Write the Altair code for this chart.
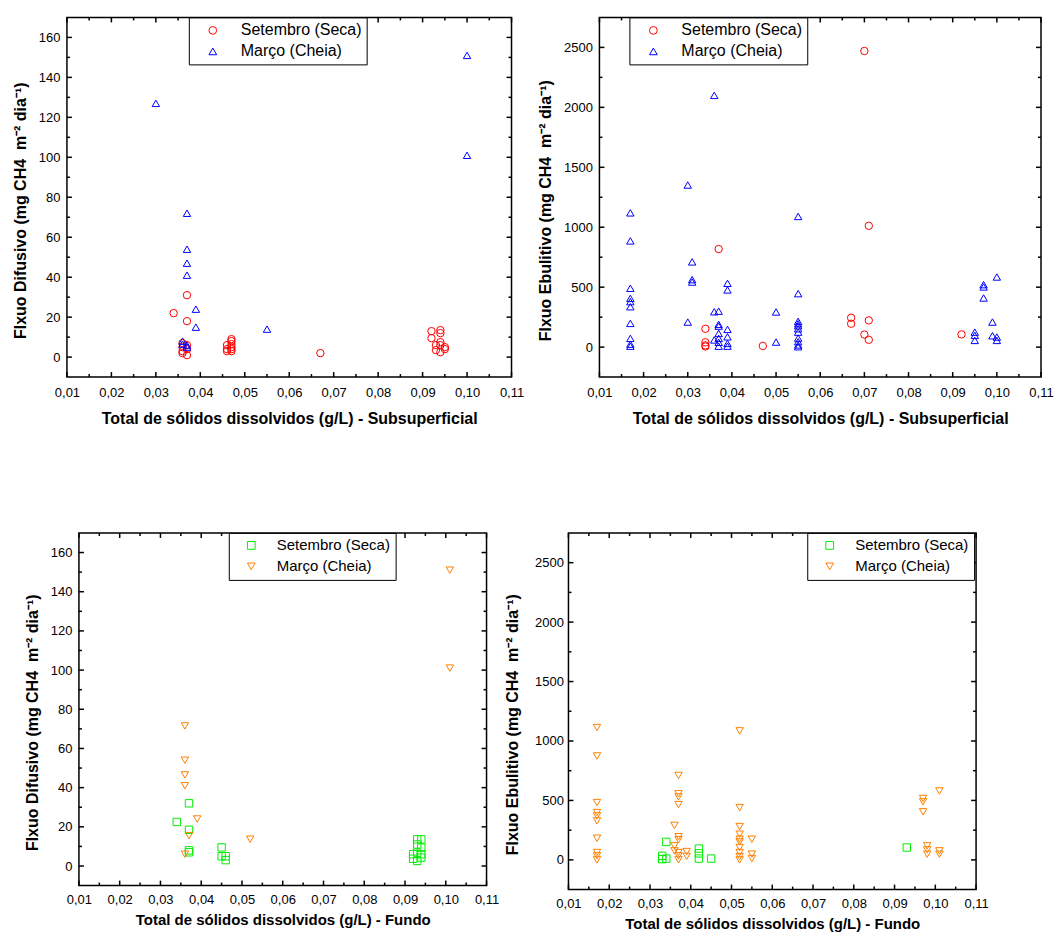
import altair as alt
import pandas as pd

SET = "Setembro (Seca)"
MAR = "Março (Cheia)"

# ---------------- Panel A: Difusivo x TDS subsuperficial ----------------
a_set_x = [0.034, 0.037, 0.037, 0.036, 0.037, 0.036, 0.037, 0.036, 0.036, 0.037,
           0.046, 0.046, 0.046, 0.047, 0.047, 0.047, 0.047, 0.047, 0.047,
           0.067,
           0.092, 0.092, 0.093, 0.093, 0.094, 0.094, 0.094, 0.094, 0.094, 0.095, 0.095]
a_set_y = [22, 31, 18, 7, 6, 5, 4, 3, 2, 1,
           6, 4, 3, 9, 8, 6.5, 5, 4, 3,
           2,
           13, 9.5, 6, 3.5, 13.5, 12, 7.5, 6, 2.5, 5, 4]
a_mar_x = [0.030, 0.100, 0.100, 0.037, 0.037, 0.037, 0.037, 0.039, 0.039, 0.055,
           0.036, 0.036, 0.037, 0.037]
a_mar_y = [127, 151, 101, 72, 54, 47, 41, 24, 15, 14,
           8, 6.5, 6, 5]

# ---------------- Panel B: Ebulitivo x TDS subsuperficial ----------------
b_set_x = [0.034, 0.034, 0.034, 0.034, 0.037, 0.047, 0.067, 0.067, 0.070, 0.070,
           0.071, 0.071, 0.071, 0.092]
b_set_y = [153, 40, 15, 5, 818, 10, 245, 195, 2470, 105,
           1012, 223, 61, 106]
b_mar_x = ([0.017] * 10 + [0.030] * 2 + [0.031] * 3 + [0.036] * 3 + [0.037] * 7 +
           [0.039] * 6 + [0.050] * 2 + [0.055] * 11 + [0.095] * 3 + [0.097] * 3 +
           [0.099] * 2 + [0.100] * 3)
b_mar_y = [1120, 886, 491, 407, 379, 337, 198, 73, 25, 8,
           1352, 209,
           711, 563, 543,
           2100, 295, 60,
           300, 190, 175, 114, 73, 40, 8,
           532, 477, 148, 86, 31, 8,
           293, 42,
           1090, 446, 215, 195, 178, 153, 125, 75, 45, 18, 3,
           125, 98, 56,
           521, 502, 410,
           209, 95,
           585, 84, 56]

# ---------------- Panel C: Difusivo x TDS fundo ----------------
c_set_x = [0.034, 0.037, 0.037, 0.037, 0.037, 0.045, 0.045, 0.046, 0.046,
           0.092, 0.092, 0.093, 0.093, 0.093, 0.093, 0.094, 0.094, 0.094, 0.094]
c_set_y = [22.5, 32, 18.5, 8, 7, 9.5, 5, 5, 3,
           6, 3.7, 13.6, 11, 6.8, 2.6, 13.6, 9.4, 6, 4.3]
c_mar_x = [0.101, 0.101, 0.036, 0.036, 0.036, 0.036, 0.039, 0.037, 0.036, 0.052]
c_mar_y = [151, 101, 71.5, 54, 46.5, 41, 24, 15.5, 6, 13.7]

# ---------------- Panel D: Ebulitivo x TDS fundo ----------------
d_set_x = [0.033, 0.033, 0.034, 0.034, 0.042, 0.042, 0.042, 0.045, 0.093]
d_set_y = [34, 6, 151, 11, 95, 55, 11, 11, 104]
d_mar_x = ([0.017] * 10 + [0.036] * 3 + [0.037] * 9 + [0.039] * 2 + [0.052] * 10 +
           [0.055] * 3 + [0.097] * 3 + [0.098] * 3 + [0.101] * 3)
d_mar_y = [1113, 874, 482, 398, 370, 328, 182, 62, 34, 0,
           290, 118, 76,
           710, 556, 530, 465, 195, 170, 62, 34, 0,
           70, 30,
           1085, 440, 280, 216, 174, 151, 104, 62, 28, 0,
           174, 48, 11,
           516, 488, 404,
           118, 84, 48,
           580, 76, 48]

# ---------------- axis tick values ----------------
x_major = [0.01, 0.02, 0.03, 0.04, 0.05, 0.06, 0.07, 0.08, 0.09, 0.10, 0.11]
x_minor = [0.015, 0.025, 0.035, 0.045, 0.055, 0.065, 0.075, 0.085, 0.095, 0.105]
dif_major = [0, 20, 40, 60, 80, 100, 120, 140, 160]
dif_minor = [10, 30, 50, 70, 90, 110, 130, 150]
ebu_major = [0, 500, 1000, 1500, 2000, 2500]
ebu_minor = [250, 750, 1250, 1750, 2250]

FONT = "Liberation Sans"
NB = "\u00a0"
TITLE_DIF = "Flxuo Difusivo (mg CH4" + NB * 2 + "m⁻²" + NB + "dia⁻¹)"
TITLE_EBU = "Flxuo Ebulitivo (mg CH4" + NB * 2 + "m⁻²" + NB + "dia⁻¹)"
XT_SUB = "Total de sólidos dissolvidos (g/L) - Subsuperficial"
XT_FUN = "Total de sólidos dissolvidos (g/L) - Fundo"
XDOM = [0.01, 0.11]


def frame(sx, sy, mx, my):
    rows = [{"serie": SET, "x": x, "y": y} for x, y in zip(sx, sy)]
    rows += [{"serie": MAR, "x": x, "y": y} for x, y in zip(mx, my)]
    return pd.DataFrame(rows)


def invisible(xpx, ypx):
    # transparent layout anchor (fixes how far a panel's box reaches)
    return alt.Chart(pd.DataFrame({"a": [0]})).mark_point(opacity=0, size=1).encode(
        x=alt.value(xpx), y=alt.value(ypx))


def panel(sx, sy, mx, my, xtitle, ytitle, ydom, ymaj, ymin, W, H,
          colors, shapes, legx, legfont, legoff, symoff, xtitle_size,
          left_ext, right_ext, labpad_y=7, titlepad_y=10,
          labpad_x=8, titlepad_x=9):
    df = frame(sx, sy, mx, my)
    xscale = alt.Scale(domain=XDOM, nice=False, zero=False)
    yscale = alt.Scale(domain=ydom, nice=False, zero=False)
    xaxis = alt.Axis(values=x_major, title=xtitle, ticks=False, tickSize=0,
                     domain=False, grid=False, labelPadding=labpad_x,
                     titlePadding=titlepad_x, titleFontSize=xtitle_size,
                     labelFlush=False,
                     labelExpr="replace(format(datum.value, '.2f'), '.', ',')")
    yaxis = alt.Axis(values=ymaj, title=ytitle, ticks=False, tickSize=0,
                     domain=False, grid=False, labelPadding=labpad_y, labelFlush=False,
                     titlePadding=titlepad_y, format="d", titleY=H / 2 + 13)
    X = alt.X("x:Q", scale=xscale, axis=xaxis)
    Y = alt.Y("y:Q", scale=yscale, axis=yaxis)

    legend = alt.Legend(title=None, orient="none", legendX=legx, legendY=0,
                        direction="vertical", strokeColor="black", fillColor="white",
                        padding=5, labelFont=FONT, labelFontSize=legfont,
                        labelColor="black", symbolSize=60, symbolStrokeWidth=1,
                        symbolOffset=symoff, labelOffset=legoff, rowPadding=5,
                        labelExpr="datum.label + '   '")
    pts = alt.Chart(df).mark_point(filled=False, size=55, strokeWidth=1, opacity=1).encode(
        x=X, y=Y,
        color=alt.Color("serie:N", scale=alt.Scale(domain=[SET, MAR], range=colors), legend=legend),
        shape=alt.Shape("serie:N", scale=alt.Scale(domain=[SET, MAR], range=shapes), legend=legend),
    )
    # inward ticks on all four sides (tick length converted from px to data units)
    dx = (XDOM[1] - XDOM[0]) / W
    dy = (ydom[1] - ydom[0]) / H
    xt = []
    for vals, ln in ((x_major, 5), (x_minor, 3)):
        for v in vals:
            xt.append({"x": v, "y": ydom[0], "y2": ydom[0] + ln * dy})
            xt.append({"x": v, "y": ydom[1], "y2": ydom[1] - ln * dy})
    yt = []
    for vals, ln in ((ymaj, 5), (ymin, 3)):
        for v in vals:
            yt.append({"y": v, "x": XDOM[0], "x2": XDOM[0] + ln * dx})
            yt.append({"y": v, "x": XDOM[1], "x2": XDOM[1] - ln * dx})
    xticks = alt.Chart(pd.DataFrame(xt)).mark_rule(color="black", strokeWidth=1.5).encode(
        x=X, y=Y, y2="y2:Q")
    yticks = alt.Chart(pd.DataFrame(yt)).mark_rule(color="black", strokeWidth=1.5).encode(
        x=X, x2="x2:Q", y=Y)
    layers = [pts, xticks, yticks, invisible(-left_ext, H / 2)]
    if right_ext is not None:
        layers.append(invisible(W + right_ext, H / 2))
    return alt.layer(*layers).properties(width=W, height=H)


def spacer(w):
    return invisible(w / 2, 0.5).properties(
        width=w, height=1, view=alt.ViewBackground(strokeOpacity=0))


A = panel(a_set_x, a_set_y, a_mar_x, a_mar_y, XT_SUB, TITLE_DIF, [-10, 170],
          dif_major, dif_minor, 445, 360, ["#FF0000", "#0000FF"],
          ["circle", "triangle-up"], 122, 16, 20, 11, 16, 55, 17,
          labpad_x=9, titlepad_x=11)
B = panel(b_set_x, b_set_y, b_mar_x, b_mar_y, XT_SUB, TITLE_EBU, [-250, 2750],
          ebu_major, ebu_minor, 442, 360, ["#FF0000", "#0000FF"],
          ["circle", "triangle-up"], 30, 16, 20, 11, 16, 66, None,
          labpad_x=9, titlepad_x=11)
C = panel(c_set_x, c_set_y, c_mar_x, c_mar_y, XT_FUN, TITLE_DIF, [-10, 170],
          dif_major, dif_minor, 408, 353, ["#00EE00", "#FF8000"],
          ["square", "triangle-down"], 150, 15, 18, 10, 15, 55, 12,
          labpad_x=8, titlepad_x=6)
D = panel(d_set_x, d_set_y, d_mar_x, d_mar_y, XT_FUN, TITLE_EBU, [-250, 2750],
          ebu_major, ebu_minor, 408, 357, ["#00EE00", "#FF8000"],
          ["square", "triangle-down"], 239, 15, 18, 10, 15, 65, None,
          labpad_y=5, titlepad_y=14, labpad_x=8, titlepad_x=6)


def indep(c):
    return c.resolve_scale(color="independent", shape="independent",
                           x="independent", y="independent").resolve_legend(
        color="independent", shape="independent")


top = indep(alt.hconcat(spacer(1), A, B, spacing=1))
bot = indep(alt.hconcat(spacer(13), C, D, spacing=1))
chart = indep(alt.vconcat(top, bot, spacing=104)).properties(
    padding={"left": 0, "top": 7, "right": 0, "bottom": 0}
).configure_view(stroke="black", strokeWidth=1.5).configure_axis(
    labelFont=FONT, labelFontSize=13, labelColor="black",
    titleFont=FONT, titleFontSize=16, titleFontWeight="bold", titleColor="black"
)

chart.save("out.html", embed_options={"renderer": "svg", "actions": False})
